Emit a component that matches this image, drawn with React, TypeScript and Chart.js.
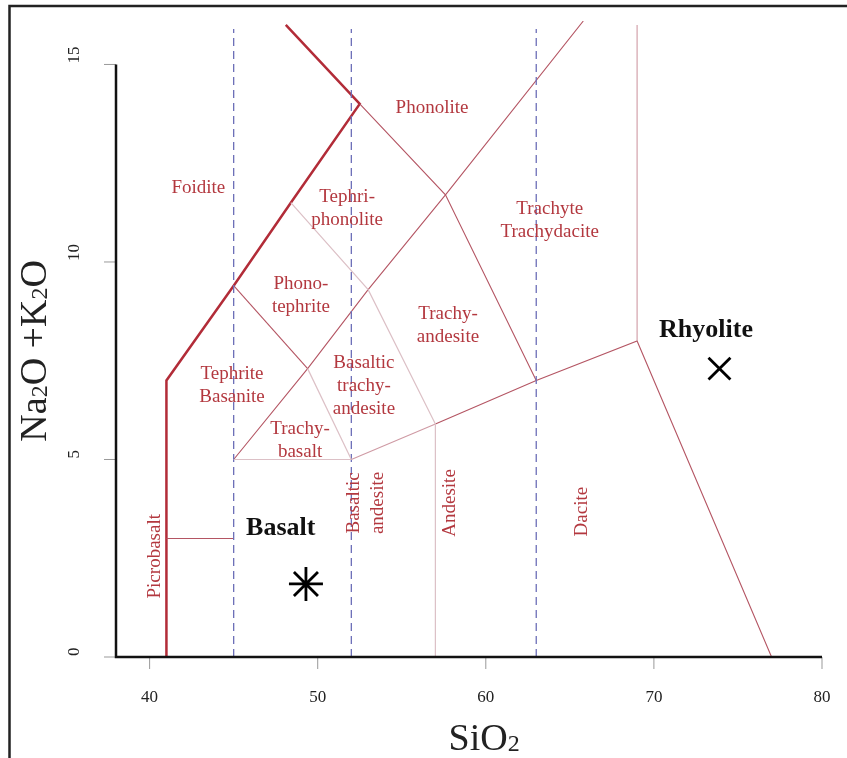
import { useEffect, useRef } from "react";
import { Chart, registerables } from "chart.js";

Chart.register(...registerables);

// Axis ticks
const X_TICKS = [40, 50, 60, 70, 80];
const Y_TICKS = [0, 5, 10, 15];

// TAS field boundaries (SiO2 wt%, Na2O+K2O wt%)
const FOIDITE_EDGE = [[41, 0], [41, 7], [45, 9.4], [48.4, 11.5], [52.5, 14], [48.1, 16]];
const PHONOLITE_BASE = [[52.5, 14], [57.6, 11.7], [63, 7]];
const TRACHYTE_EDGE = [[45, 5], [49.4, 7.3], [53, 9.3], [57.6, 11.7], [65.8, 16.1]];
const PHONOTEPHRITE_BASE = [[45, 9.4], [49.4, 7.3]];
const SUBALKALINE_TOP = [[57, 5.9], [63, 7], [69, 8], [77, 0]];
const BTA_TOP_EDGE = [[52, 5], [57, 5.9]];
const RHYOLITE_EDGE = [[69, 8], [69, 16]];
const PICROBASALT_TOP = [[41, 3], [45, 3]];
const TEPHRIPHONOLITE_BASE = [[48.4, 11.5], [53, 9.3], [57, 5.9]];
const TRACHYBASALT_EDGE = [[49.4, 7.3], [52, 5]];
const TRACHYBASALT_BASE = [[45, 5], [52, 5]];
const ANDESITE_EDGE = [[57, 0], [57, 5.9]];
const DIVIDER_45 = [[45, 0], [45, 15.9]];
const DIVIDER_52 = [[52, 0], [52, 15.9]];
const DIVIDER_63 = [[63, 0], [63, 15.9]];

// Samples
const BASALT_SAMPLE = [[49.3, 1.85]];
const RHYOLITE_SAMPLE = [[73.9, 7.3]];

// Field names: text lines, SiO2, alkalis
const FIELD_NAMES: [string[], number, number][] = [
  [["Phonolite"], 56.8, 13.9],
  [["Foidite"], 42.9, 11.87],
  [["Tephri-", "phonolite"], 51.75, 11.35],
  [["Trachyte", "Trachydacite"], 63.8, 11.06],
  [["Phono-", "tephrite"], 49.0, 9.16],
  [["Trachy-", "andesite"], 57.75, 8.38],
  [["Tephrite", "Basanite"], 44.9, 6.86],
  [["Basaltic", "trachy-", "andesite"], 52.75, 6.86],
  [["Trachy-", "basalt"], 48.95, 5.47],
];
const VERTICAL_NAMES: [string[], number, number][] = [
  [["Picrobasalt"], 40.3, 2.55],
  [["Basaltic", "andesite"], 52.9, 3.9],
  [["Andesite"], 57.85, 3.9],
  [["Dacite"], 65.7, 3.68],
];
const ROCK_NAMES: [string, number, number][] = [
  ["Basalt", 47.8, 3.27],
  ["Rhyolite", 73.1, 8.28],
];

const pts = (a: number[][]) => a.map(([x, y]) => ({ x, y }));

const DARK = "#b22c38";
const MID = "#b45563";
const LIGHT = "#dcc0c6";
const DASH = "#6c6fb8";
const TEXT_RED = "#b3383f";
const SERIF = '"Liberation Serif", "Times New Roman", serif';

function line(data: number[][], color: string, width: number, dash: number[] = []) {
  return {
    type: "line" as const,
    data: pts(data),
    borderColor: color,
    borderWidth: width,
    borderDash: dash,
    pointRadius: 0,
    fill: false,
    tension: 0,
  };
}

const decorations = {
  id: "tasDecorations",
  afterDatasetsDraw(chart: any) {
    const { ctx } = chart;
    const xs = chart.scales.x;
    const ys = chart.scales.y;
    const px = (v: number) => xs.getPixelForValue(v);
    const py = (v: number) => ys.getPixelForValue(v);
    ctx.save();

    // outer frame
    ctx.strokeStyle = "#222";
    ctx.lineWidth = 2.5;
    ctx.strokeRect(9.5, 6, 900, 800);

    // axes
    const x0 = px(38);
    const y0 = py(0);
    ctx.strokeStyle = "#999";
    ctx.lineWidth = 1;
    for (const t of X_TICKS) {
      ctx.beginPath();
      ctx.moveTo(px(t), y0);
      ctx.lineTo(px(t), y0 + 12);
      ctx.stroke();
    }
    for (const t of Y_TICKS) {
      ctx.beginPath();
      ctx.moveTo(x0, py(t));
      ctx.lineTo(x0 - 12, py(t));
      ctx.stroke();
    }
    ctx.strokeStyle = "#111";
    ctx.lineWidth = 2.5;
    ctx.beginPath();
    ctx.moveTo(x0, py(Y_TICKS[Y_TICKS.length - 1]));
    ctx.lineTo(x0, y0);
    ctx.lineTo(px(X_TICKS[X_TICKS.length - 1]), y0);
    ctx.stroke();

    // tick labels
    ctx.fillStyle = "#222";
    ctx.font = `17px ${SERIF}`;
    ctx.textAlign = "center";
    ctx.textBaseline = "middle";
    for (const t of X_TICKS) ctx.fillText(String(t), px(t), y0 + 41);
    for (const t of Y_TICKS) {
      ctx.save();
      ctx.translate(x0 - 41, py(t) - 1);
      ctx.rotate(-Math.PI / 2);
      ctx.textAlign = "left";
      ctx.fillText(String(t), 0, 0);
      ctx.restore();
    }

    // axis titles with subscripts
    const drawRich = (parts: [string, boolean][], cx: number, cy: number, rot: number) => {
      const big = `38px ${SERIF}`;
      const small = `24px ${SERIF}`;
      let w = 0;
      for (const [s, sub] of parts) {
        ctx.font = sub ? small : big;
        w += ctx.measureText(s).width;
      }
      ctx.save();
      ctx.translate(cx, cy);
      ctx.rotate(rot);
      ctx.textAlign = "left";
      ctx.textBaseline = "alphabetic";
      let x = -w / 2;
      for (const [s, sub] of parts) {
        ctx.font = sub ? small : big;
        ctx.fillText(s, x, sub ? 14 : 13);
        x += ctx.measureText(s).width;
      }
      ctx.restore();
    };
    ctx.fillStyle = "#222";
    drawRich([["SiO", false], ["2", true]], px(59.9), y0 + 80, 0);
    drawRich(
      [["Na", false], ["2", true], ["O +K", false], ["2", true], ["O", false]],
      x0 - 83,
      py(7.75),
      -Math.PI / 2
    );

    // field names
    ctx.fillStyle = TEXT_RED;
    ctx.font = `19px ${SERIF}`;
    ctx.textAlign = "center";
    ctx.textBaseline = "middle";
    const lh = 23;
    for (const [lines, sx, sy] of FIELD_NAMES) {
      const top = py(sy) - ((lines.length - 1) * lh) / 2;
      lines.forEach((l, i) => ctx.fillText(l, px(sx), top + i * lh));
    }
    for (const [lines, sx, sy] of VERTICAL_NAMES) {
      ctx.save();
      ctx.translate(px(sx), py(sy));
      ctx.rotate(-Math.PI / 2);
      const top = -((lines.length - 1) * 24) / 2;
      lines.forEach((l, i) => ctx.fillText(l, 0, top + i * 24));
      ctx.restore();
    }
    ctx.fillStyle = "#111";
    ctx.font = `bold 26px ${SERIF}`;
    for (const [name, sx, sy] of ROCK_NAMES) ctx.fillText(name, px(sx), py(sy));

    ctx.restore();
  },
};

export default function App() {
  const ref = useRef<HTMLCanvasElement>(null);
  useEffect(() => {
    if (!ref.current) return;
    const chart = new Chart(ref.current, {
      type: "scatter",
      data: {
        datasets: [
          line(TEPHRIPHONOLITE_BASE, LIGHT, 1.2),
          line(TRACHYBASALT_EDGE, LIGHT, 1.2),
          line(TRACHYBASALT_BASE, LIGHT, 1.2),
          line(ANDESITE_EDGE, LIGHT, 1.2),
          line(BTA_TOP_EDGE, "#cf9aa4", 1.1),
          line(RHYOLITE_EDGE, "#cf9aa4", 1.1),
          line(DIVIDER_45, DASH, 1.3, [8, 5]),
          line(DIVIDER_52, DASH, 1.3, [8, 5]),
          line(DIVIDER_63, DASH, 1.3, [8, 5]),
          line(PHONOLITE_BASE, MID, 1.1),
          line(TRACHYTE_EDGE, MID, 1.1),
          line(PHONOTEPHRITE_BASE, MID, 1.1),
          line(SUBALKALINE_TOP, MID, 1.1),
          line(PICROBASALT_TOP, MID, 1.1),
          line(FOIDITE_EDGE, DARK, 2.5),
          {
            type: "scatter" as const,
            data: pts(BASALT_SAMPLE),
            pointStyle: "star",
            radius: 17,
            borderColor: "#000",
            backgroundColor: "#000",
            borderWidth: 2.8,
          },
          {
            type: "scatter" as const,
            data: pts(RHYOLITE_SAMPLE),
            pointStyle: "crossRot",
            radius: 15.5,
            borderColor: "#000",
            backgroundColor: "#000",
            borderWidth: 2.8,
          },
        ] as any,
      },
      options: {
        animation: false,
        responsive: false,
        devicePixelRatio: 1,
        layout: { padding: { left: 116, right: 25, top: 21, bottom: 101 } },
        scales: {
          x: { type: "linear", min: 38, max: 80, display: false },
          y: { type: "linear", min: 0, max: 16.1, display: false },
        },
        plugins: { legend: { display: false }, tooltip: { enabled: false } },
      },
      plugins: [decorations],
    });
    return () => chart.destroy();
  }, []);
  return (
    <div style={{ position: "absolute", left: 0, top: 0, width: 847, height: 758, background: "#fff" }}>
      <canvas ref={ref} width={847} height={758} />
    </div>
  );
}
